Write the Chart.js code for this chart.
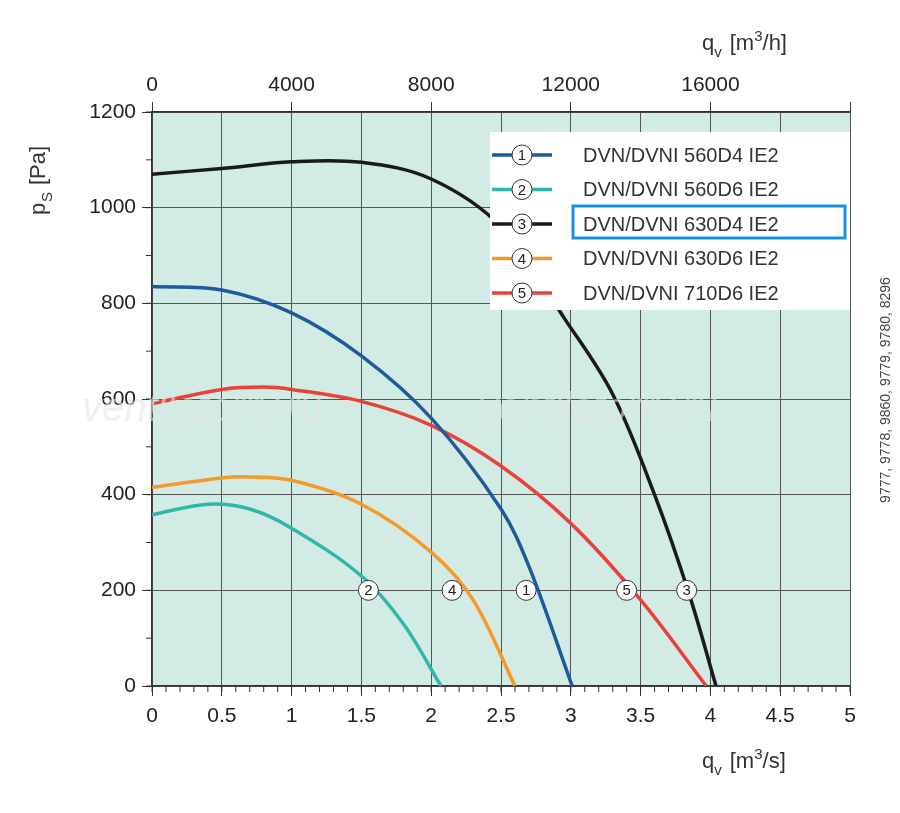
<!DOCTYPE html>
<html><head><meta charset="utf-8">
<script src="https://cdn.jsdelivr.net/npm/chart.js@4"></script>
<style>body{margin:0;background:#fff}#wrap{width:900px;height:813px}</style>
</head><body><div id="wrap"><canvas id="c" width="900" height="813"></canvas></div>
<script>
const FONT = '"Liberation Sans", Arial, sans-serif';
const seriesNames = ['DVN/DVNI 560D4 IE2', 'DVN/DVNI 560D6 IE2', 'DVN/DVNI 630D4 IE2', 'DVN/DVNI 630D6 IE2', 'DVN/DVNI 710D6 IE2'];
const seriesColors = ['#1f5b9c', '#2fb8a8', '#1a1a1a', '#f39a2b', '#e8423a'];
const s1x = [0, 0.5, 1, 1.5, 2, 2.5, 2.7, 3.01];
const s1y = [835, 828, 780, 690, 560, 370, 250, 0];
const s2x = [0, 0.4, 0.7, 1, 1.5, 1.8, 2.07];
const s2y = [358, 380, 370, 330, 230, 130, 0];
const s3x = [0, 0.5, 1, 1.5, 2, 2.5, 2.96, 3.3, 3.6, 3.85, 4.04];
const s3y = [1070, 1082, 1096, 1095, 1060, 960, 766, 610, 400, 190, 0];
const s4x = [0, 0.5, 0.7, 1, 1.5, 2, 2.3, 2.6];
const s4y = [415, 435, 437, 430, 380, 280, 180, 0];
const s5x = [0, 0.5, 0.8, 1, 1.5, 2, 2.5, 3, 3.5, 3.97];
const s5y = [590, 620, 625, 620, 595, 545, 460, 340, 180, 0];
const markerX = [2.68, 1.55, 3.83, 2.15, 3.40];
const markerY = 200;
const topTicks = [0, 4000, 8000, 12000, 16000];

const allX = [s1x, s2x, s3x, s4x, s5x], allY = [s1y, s2y, s3y, s4y, s5y];
const datasets = allX.map((xs, i) => ({
  label: seriesNames[i],
  data: xs.map((x, j) => ({x, y: allY[i][j]})),
  borderColor: seriesColors[i], borderWidth: 3.5, pointRadius: 0,
  tension: 0.35, fill: false, xAxisID: 'x', order: i === 2 ? 0 : 1
}));

const deco = {
  id: 'deco',
  beforeDraw(ch) {
    const a = ch.chartArea, c = ch.ctx;
    c.save(); c.fillStyle = '#d3ebe5'; c.fillRect(a.left, a.top, a.right - a.left, a.bottom - a.top); c.restore();
  },
  afterDatasetsDraw(ch) {
    const a = ch.chartArea, c = ch.ctx, sx = ch.scales.x, sy = ch.scales.y;
    c.save();
    c.strokeStyle = '#333'; c.lineWidth = 1;
    for (let v = 0; v <= 5.001; v += 0.1) { const p = sx.getPixelForValue(v); c.beginPath(); c.moveTo(p, a.bottom); c.lineTo(p, a.bottom + 6); c.stroke(); }
    for (let v = 0; v <= 1200; v += 100) { const p = sy.getPixelForValue(v); c.beginPath(); c.moveTo(a.left, p); c.lineTo(a.left - 6, p); c.stroke(); }
    c.font = 'italic 40px ' + FONT; c.fillStyle = 'rgba(225,230,230,0.6)'; c.textBaseline = 'middle';
    c.fillText('ventilatorry.ru', 82, 410); c.fillText('ventilatorry.ru', 478, 410);
    markerX.forEach((x, i) => {
      const px = sx.getPixelForValue(x), py = sy.getPixelForValue(markerY);
      c.beginPath(); c.arc(px, py, 10, 0, Math.PI * 2); c.fillStyle = '#fff'; c.fill();
      c.strokeStyle = '#333'; c.lineWidth = 1; c.stroke();
      c.fillStyle = '#222'; c.font = '15px ' + FONT; c.textAlign = 'center'; c.fillText(String(i + 1), px, py + 1);
    });
    c.fillStyle = '#fff'; c.fillRect(490, 132, 360, 178);
    seriesNames.forEach((n, i) => {
      const y = 155 + i * 34.5;
      c.strokeStyle = seriesColors[i]; c.lineWidth = 3.5; c.beginPath(); c.moveTo(492, y); c.lineTo(552, y); c.stroke();
      c.beginPath(); c.arc(522, y, 10, 0, Math.PI * 2); c.fillStyle = '#fff'; c.fill(); c.strokeStyle = '#333'; c.lineWidth = 1; c.stroke();
      c.fillStyle = '#222'; c.font = '15px ' + FONT; c.textAlign = 'center'; c.fillText(String(i + 1), 522, y + 1);
      c.textAlign = 'left'; c.font = '20px ' + FONT; c.fillStyle = '#333'; c.fillText(n, 583, y + 1);
    });
    c.strokeStyle = '#1a8fe0'; c.lineWidth = 3; c.strokeRect(573, 206, 272, 32);
    c.restore();
  },
  afterDraw(ch) {
    const c = ch.ctx; c.save(); c.fillStyle = '#333'; c.textBaseline = 'alphabetic';
    const sub = (x, y, a, b, rest) => {
      c.font = '22px ' + FONT; c.fillText(a, x, y); let w = c.measureText(a).width;
      c.font = '15px ' + FONT; c.fillText(b, x + w, y + 7); w += c.measureText(b).width + 8;
      c.font = '22px ' + FONT; c.fillText(rest[0], x + w, y); w += c.measureText(rest[0]).width;
      c.font = '15px ' + FONT; c.fillText('3', x + w, y - 9); w += c.measureText('3').width;
      c.font = '22px ' + FONT; c.fillText(rest[1], x + w, y);
    };
    c.textAlign = 'left';
    sub(702, 768, 'q', 'v', ['[m', '/s]']);
    sub(702, 50, 'q', 'v', ['[m', '/h]']);
    c.translate(45, 215); c.rotate(-Math.PI / 2);
    c.font = '22px ' + FONT; c.fillText('p', 0, 0); c.font = '15px ' + FONT; c.fillText('S', 13, 7);
    c.font = '22px ' + FONT; c.fillText('[Pa]', 30, 0);
    c.restore(); c.save();
    c.translate(890, 390); c.rotate(-Math.PI / 2); c.font = '14px ' + FONT; c.fillStyle = '#444'; c.textAlign = 'center';
    c.fillText('9777, 9778, 9860, 9779, 9780, 8296', 0, 0);
    c.restore();
  }
};

const tickFont = { family: FONT, size: 21 };
new Chart(document.getElementById('c'), {
  type: 'line',
  data: { datasets },
  plugins: [deco],
  options: {
    responsive: false, animation: false,
    layout: { padding: { left: 0, right: 50, top: 0, bottom: 0 } },
    plugins: { legend: { display: false }, tooltip: { enabled: false } },
    scales: {
      x: { type: 'linear', position: 'bottom', min: 0, max: 5,
        afterFit: s => { s.height = 127; },
        ticks: { stepSize: 0.5, color: '#222', font: tickFont, padding: 8, callback: v => String(v) },
        grid: { color: '#555', lineWidth: 1, tickLength: 10, tickColor: '#333' }, border: { color: '#333', width: 1.5 } },
      x2: { type: 'linear', position: 'top', min: 0, max: 20000,
        afterFit: s => { s.height = 112; },
        ticks: { stepSize: 4000, color: '#222', font: tickFont, padding: 4,
          callback: v => topTicks.includes(v) ? String(v) : '' },
        grid: { drawOnChartArea: false, tickLength: 10, tickColor: '#333' }, border: { color: '#333', width: 1.5 } },
      y: { type: 'linear', min: 0, max: 1200,
        afterFit: s => { s.width = 152; },
        ticks: { stepSize: 200, color: '#222', font: tickFont, padding: 6, callback: v => String(v) },
        grid: { color: '#555', lineWidth: 1, tickLength: 10, tickColor: '#333' }, border: { color: '#333', width: 1.5 } }
    }
  }
});
</script></body></html>
